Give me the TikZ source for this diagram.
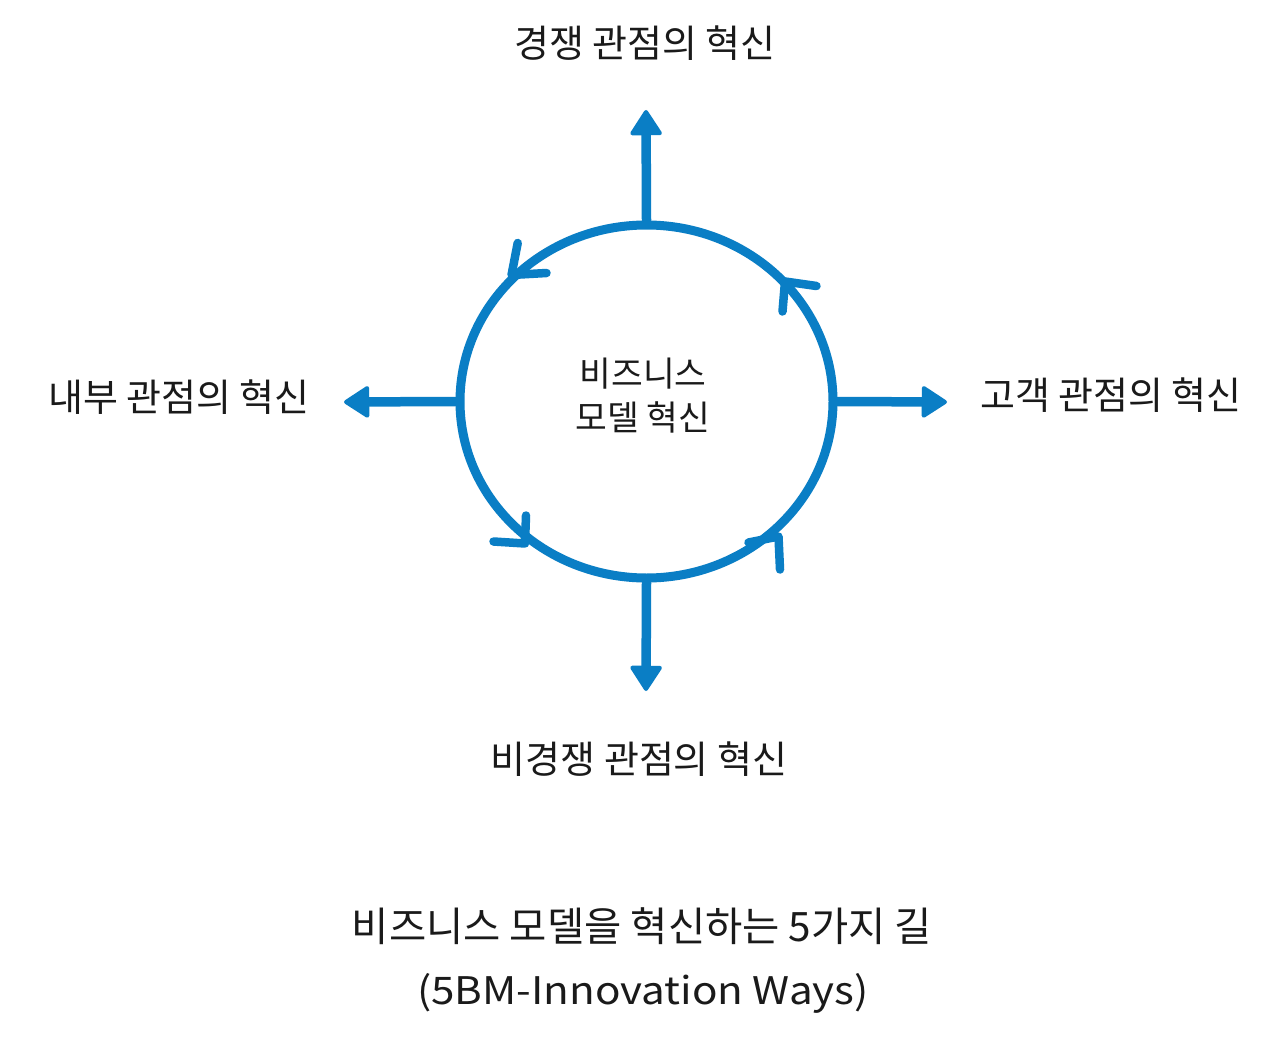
\documentclass[tikz,border=0pt]{standalone}
\usepackage{fontspec}
\usetikzlibrary{arrows.meta,shapes.geometric}
\newfontfamily\kr{Noto Sans CJK KR}
\newfontfamily\krw[FakeStretch=1.11]{Noto Sans CJK KR}
\definecolor{bmblue}{HTML}{0A7EC5}
\definecolor{ink}{HTML}{1A1A1A}
\begin{document}
\begin{tikzpicture}[x=1pt,y=-1pt,
  lab/.style={font=\kr\fontsize{38}{44}\selectfont, text=ink, inner sep=0pt, anchor=center},
  blueline/.style={draw=bmblue, line width=9.5pt, line cap=round, line join=round},
  outarrow/.style={blueline, -{Triangle[round,length=27pt,width=34pt,line width=4pt]}},
  barb/.style={draw=bmblue, line width=8.5pt, line cap=round, line join=round}
]
\useasboundingbox[fill=white] (0,0) rectangle (1280,1046);

% central ellipse
\node[ellipse, draw=bmblue, line width=9pt, minimum width=373pt, minimum height=353pt, inner sep=0pt] (hub) at (646.5,401.5) {};
\node[font=\kr\fontsize{34.5}{48}\selectfont, text=ink, align=center, inner sep=0pt] (hubtxt) at (643,396)
  {비즈니스\\[-4pt]모델 혁신};

% labels
\node[lab] (top) at (645,43) {경쟁 관점의 혁신};
\node[lab] (left) at (179,397) {내부 관점의 혁신};
\node[lab] (right) at (1111,395) {고객 관점의 혁신};
\node[lab] (bottom) at (639,759) {비경쟁 관점의 혁신};

% arrow ends
\coordinate (tN) at (646,110);
\coordinate (tW) at (344,402);
\coordinate (tE) at (947,402);
\coordinate (tS) at (646,691);

\draw[outarrow] (hub.north) -- (tN);
\draw[outarrow] (hub.west) -- (tW);
\draw[outarrow] (hub.east) -- (tE);
\draw[outarrow] (hub.south) -- (tS);

% direction marks on the ellipse (counterclockwise)
\draw[barb] (517.7,243) -- (511.5,275) -- (546.5,273);
\draw[barb] (816.5,286) -- (785,281.5) -- (782.5,311.5);
\draw[barb] (526,515.5) -- (525,543.5) -- (493.5,541.5);
\draw[barb] (748.5,542.5) -- (778.5,536.5) -- (780,569.5);

% title
\node[font=\kr\fontsize{40.5}{48}\selectfont, text=ink, inner sep=0pt] (title) at (642,926) {비즈니스 모델을 혁신하는 5가지 길};
\node[font=\krw\fontsize{38}{44}\selectfont, text=ink, inner sep=0pt] (subtitle) at (643,993) {(5BM-Innovation Ways)};
\end{tikzpicture}
\end{document}
